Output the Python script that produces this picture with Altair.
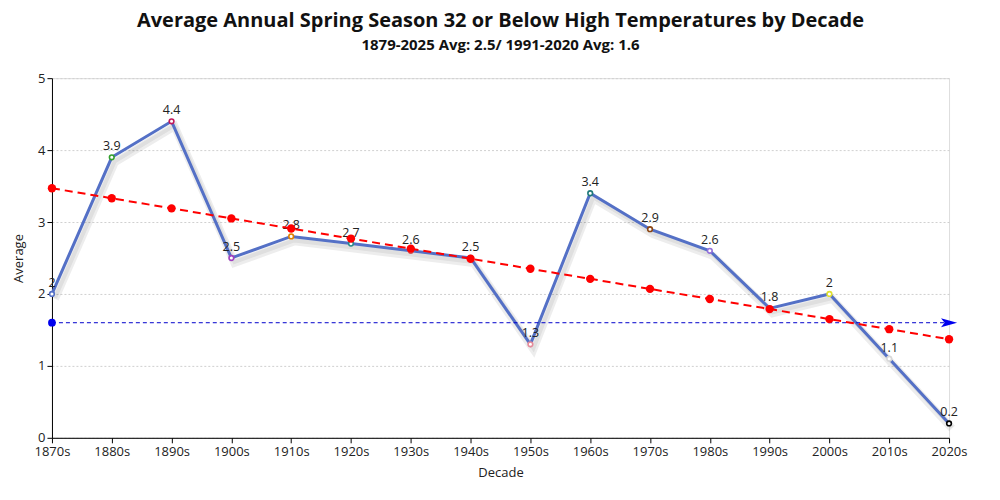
import altair as alt
import pandas as pd

decades = ["1870s", "1880s", "1890s", "1900s", "1910s", "1920s", "1930s", "1940s",
           "1950s", "1960s", "1970s", "1980s", "1990s", "2000s", "2010s", "2020s"]
averages = [2, 3.9, 4.4, 2.5, 2.8, 2.7, 2.6, 2.5, 1.3, 3.4, 2.9, 2.6, 1.8, 2, 1.1, 0.2]
trend = [3.47, 3.33, 3.19, 3.05, 2.91, 2.77, 2.63, 2.49, 2.35, 2.21, 2.07, 1.93,
         1.79, 1.65, 1.51, 1.37]
point_colors = ["#5470c6", "#33a02c", "#c2185b", "#a040c0", "#e08000", "#2a8a8a",
                "#d05050", "#888888", "#e58a9a", "#1f7a7a", "#8b4513", "#9370db",
                "#aaaaaa", "#e0e030", "#d8d8d8", "#000000"]
normal_avg = 1.6
first_decade = decades[0]
last_decade = decades[-1]

df = pd.DataFrame({"Decade": decades, "Average": averages, "Trend": trend,
                   "Color": point_colors})
avg_df = pd.DataFrame({"Decade": [first_decade, last_decade],
                       "Average": [normal_avg, normal_avg]})

xenc = alt.X("Decade:N", sort=decades,
             scale=alt.Scale(type="point", padding=0),
             axis=alt.Axis(title="Decade", labelAngle=0, grid=False,
                           domainColor="#000", tickColor="#000",
                           labelFontSize=13, titleFontSize=13,
                           labelColor="#222", titleColor="#222",
                           titleFontWeight="normal", labelPadding=3,
                           titlePadding=8))
yaxis = alt.Axis(title="Average", values=[0, 1, 2, 3, 4, 5], labelOverlap=False,
                 gridDash=[2, 2], gridColor="#d0d0d0",
                 domainColor="#000", tickColor="#000",
                 labelFontSize=13, titleFontSize=13,
                 labelColor="#222", titleColor="#222",
                 titleFontWeight="normal", titlePadding=12)
yscale = alt.Scale(domain=[0, 5])
yenc = alt.Y("Average:Q", scale=yscale, axis=yaxis)
ytrend = alt.Y("Trend:Q", scale=yscale, axis=yaxis)

base = alt.Chart(df)

shadow = base.mark_line(color="#000", opacity=0.07, strokeWidth=8,
                        xOffset=3, yOffset=5).encode(x=xenc, y=yenc)
shadow2 = base.mark_line(color="#000", opacity=0.06, strokeWidth=4,
                         xOffset=3, yOffset=4).encode(x=xenc, y=yenc)
line = base.mark_line(color="#5470c6", strokeWidth=3).encode(x=xenc, y=yenc)
pts = base.mark_point(filled=True, fill="white", size=22, strokeWidth=1.6,
                      opacity=1).encode(
    x=xenc, y=yenc, stroke=alt.Color("Color:N", scale=None))
labels = base.mark_text(dy=-11, fontSize=12.5, color="#222").encode(
    x=xenc, y=yenc, text=alt.Text("Average:Q"))

avg_line = alt.Chart(avg_df).mark_line(color="#0000cc", strokeWidth=1,
                                       strokeDash=[4, 3]).encode(x=xenc, y=yenc)
avg_start = alt.Chart(avg_df.iloc[[0]]).mark_point(
    filled=True, color="#0000ee", size=60, opacity=1).encode(x=xenc, y=yenc)
avg_arrow = alt.Chart(avg_df.iloc[[1]]).mark_point(
    filled=True, color="#0000ee", size=260, opacity=1,
    shape="M-1,-0.55 L1,0 L-1,0.55 L-0.55,0 Z").encode(x=xenc, y=yenc)

trend_line = base.mark_line(color="#ff0000", strokeWidth=2,
                            strokeDash=[8, 5]).encode(x=xenc, y=ytrend)
trend_pts = base.mark_point(filled=True, color="#ff0000", size=70,
                            opacity=1).encode(x=xenc, y=ytrend)

chart = alt.layer(shadow, shadow2, line, pts, labels, avg_line, avg_start, avg_arrow,
                  trend_line, trend_pts).properties(
    width=898, height=360,
    title=alt.TitleParams(
        text="Average Annual Spring Season 32 or Below High Temperatures by Decade",
        subtitle="1879-2025 Avg: 2.5/ 1991-2020 Avg: 1.6",
        fontSize=20, subtitleFontSize=15, fontWeight="bold",
        subtitleFontWeight="bold", font="Open Sans", subtitleFont="Open Sans",
        color="#111", subtitleColor="#111", anchor="middle", offset=19,
        subtitlePadding=7),
    padding={"left": 4, "top": 3, "right": 24, "bottom": 2}
).configure_view(stroke=None).configure(font="Open Sans")

chart.save("out.html", embed_options={"renderer": "svg", "actions": False})
